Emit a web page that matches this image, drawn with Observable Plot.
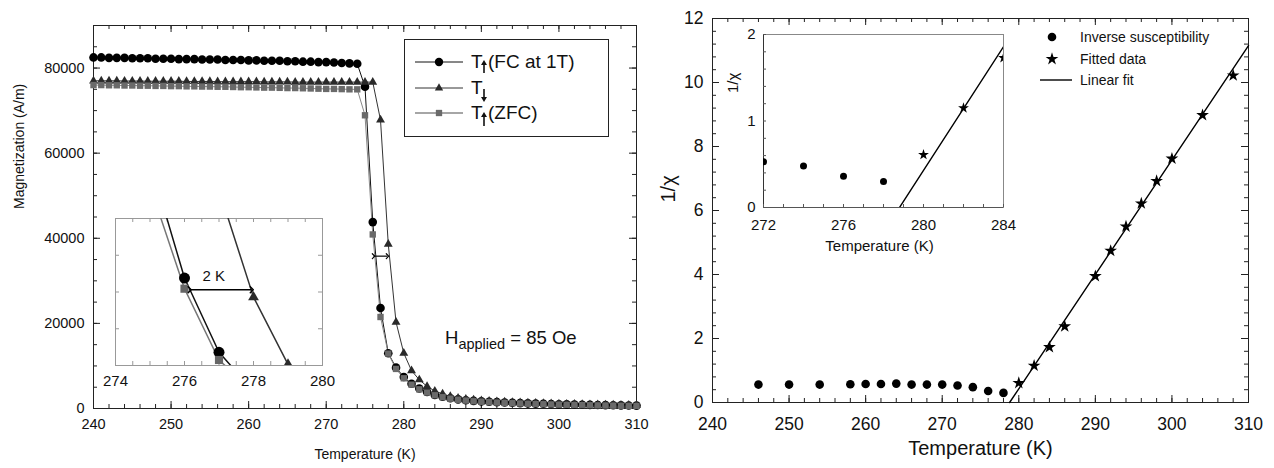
<!DOCTYPE html>
<html><head><meta charset="utf-8">
<script src="https://cdn.jsdelivr.net/npm/d3@7"></script>
<script src="https://cdn.jsdelivr.net/npm/@observablehq/plot@0.6"></script>
<style>
body{margin:0;background:#fff;}
#root{position:relative;width:1274px;height:468px;overflow:hidden;font-family:"Liberation Sans",Arial,sans-serif;background:#fff;}
#root > *{position:absolute;}
</style></head><body><div id="root"></div>
<script>
// ---------- Left panel data: magnetization vs temperature ----------
const temps = [240,241,242,243,244,245,246,247,248,249,250,251,252,253,254,255,256,257,258,259,260,261,262,263,264,265,266,267,268,269,270,271,272,273,274,275,276,277,278,279,280,281,282,283,284,285,286,287,288,289,290,291,292,293,294,295,296,297,298,299,300,301,302,303,304,305,306,307,308,309,310];
const fcUp = [82500,82500,82400,82400,82400,82300,82300,82300,82200,82200,82200,
  82100,82100,82100,82000,82000,82000,81900,81900,81900,81800,
  81800,81700,81700,81700,81600,81600,81500,81500,81400,81400,
  81300,81200,81100,81000,75600,43800,23600,13000,9600,7400,
  5800,4700,3900,3200,2750,2400,2150,1950,1800,1680,
  1580,1490,1410,1340,1270,1210,1150,1100,1050,1000,
  960,920,880,850,820,790,760,730,700,680];
const down = [77000,77000,77000,77000,76950,76950,76950,76900,76900,76900,76900,
  76900,76850,76850,76850,76850,76800,76800,76800,76800,76800,
  76800,76750,76750,76750,76750,76700,76700,76700,76700,76700,
  76700,76700,76700,76700,76700,76700,67800,38600,20300,13000,
  8900,6750,5200,4100,3450,2850,2450,2200,2000,1850,
  1730,1630,1540,1460,1390,1320,1260,1200,1150,1100,
  1050,1010,970,930,900,870,840,810,780,750];
const zfcUp = [76000,76000,75950,75950,75900,75900,75850,75850,75800,75800,75750,
  75750,75700,75700,75650,75650,75600,75600,75550,75500,75500,
  75450,75400,75400,75350,75300,75300,75250,75200,75150,75100,
  75100,75050,75000,75000,68900,40900,21500,12900,9300,7100,
  5600,4500,3750,3100,2650,2300,2050,1850,1700,1580,
  1480,1390,1310,1240,1170,1110,1050,1000,950,900,
  860,820,790,760,730,700,670,640,620,600];
const leftXTicks = [240,250,260,270,280,290,300,310];
const leftYTicks = [0,20000,40000,60000,80000];
const insetLXTicks = [274,276,278,280];
// annotation (2 K hysteresis)
const gapMain = [{x1: 276.1, x2: 277.9, M: 35800}];
const gapInset = [{x1: 276.15, x2: 277.95, M: 40600}];
const gapLabel = [{T: 276.85, M: 44400, text: "2 K"}];

// ---------- Right panel data: inverse susceptibility ----------
const invT = [246,250,254,258,260,262,264,266,268,270,272,274,276,278];
const invV = [0.56,0.56,0.56,0.57,0.58,0.58,0.59,0.56,0.56,0.56,0.53,0.48,0.36,0.30];
const fitT = [280,282,284,286,290,292,294,296,298,300,304,308];
const fitV = [0.61,1.15,1.73,2.38,3.95,4.74,5.50,6.22,6.92,7.62,8.98,10.22];
const linT = [278.8, 310];
const linV = [0, 11.15];
const rightXTicks = [240,250,260,270,280,290,300,310];
const rightYTicks = [0,2,4,6,8,10,12];
const insetRXTicks = [272,276,280,284];
const insetRYTicks = [0,1,2];

const FONT = "Liberation Sans, Arial, sans-serif";
const root = document.getElementById("root");
const num = d3.format("d");

const fcData = temps.map((t,i)=>({T:t, M:fcUp[i]}));
const downData = temps.map((t,i)=>({T:t, M:down[i]}));
const zfcData = temps.map((t,i)=>({T:t, M:zfcUp[i]}));
const invData = invT.map((t,i)=>({T:t, v:invV[i]}));
const fitData = fitT.map((t,i)=>({T:t, v:fitV[i]}));
const linData = linT.map((t,i)=>({T:t, v:linV[i]}));

function inwardTicks(xs, ys, fw, fh, len, stroke, sides="tblr") {
  const m = [];
  if (sides.includes("b")) m.push(Plot.tickX(xs, {x: d=>d, insetTop: fh-len, stroke}));
  if (sides.includes("t")) m.push(Plot.tickX(xs, {x: d=>d, insetBottom: fh-len, stroke}));
  if (sides.includes("l")) m.push(Plot.tickY(ys, {y: d=>d, insetRight: fw-len, stroke}));
  if (sides.includes("r")) m.push(Plot.tickY(ys, {y: d=>d, insetLeft: fw-len, stroke}));
  return m;
}
function place(el, left, top) { el.style.left = left+"px"; el.style.top = top+"px"; root.appendChild(el); return el; }
const baseStyle = (fs) => ({fontFamily: FONT, fontSize: fs+"px", background: "none", color: "#111", overflow: "visible"});

// ---------- Left main ----------
{
  const W=650,H=468, mL=93, mR=14, mT=25, mB=60;
  const fw=W-mL-mR, fh=H-mT-mB;
  const p = Plot.plot({
    width:W, height:H, marginLeft:mL, marginRight:mR, marginTop:mT, marginBottom:mB,
    style: baseStyle(14),
    x:{domain:[240,310]}, y:{domain:[0,90000]},
    marks:[
      Plot.frame({stroke:"#222"}),
      ...inwardTicks(d3.range(240,311,2), d3.range(0,90001,5000), fw, fh, 4, "#222"),
      ...inwardTicks(leftXTicks, leftYTicks, fw, fh, 7, "#222"),
      Plot.axisX(leftXTicks, {tickSize:0, tickPadding:10, fontSize:14.5, label:null, tickFormat:num}),
      Plot.axisY(leftYTicks, {tickSize:0, tickPadding:9, fontSize:14.5, label:null, tickFormat:num}),
      Plot.line(fcData, {x:"T", y:"M", stroke:"#111", strokeWidth:1}),
      Plot.line(downData, {x:"T", y:"M", stroke:"#333", strokeWidth:1}),
      Plot.line(zfcData, {x:"T", y:"M", stroke:"#888", strokeWidth:1}),
      Plot.dot(fcData, {x:"T", y:"M", r:4.3, fill:"#000", symbol:"circle"}),
      Plot.dot(downData, {x:"T", y:"M", r:3.3, fill:"#2a2a2a", symbol:"triangle"}),
      Plot.dot(zfcData, {x:"T", y:"M", r:3.6, fill:"#6a6a6a", symbol:"square"}),
      Plot.link(gapMain, {x1:"x1", x2:"x2", y1:"M", y2:"M", stroke:"#000", strokeWidth:1.2, markerStart:"arrow", markerEnd:"arrow"}),
      Plot.text(["Temperature (K)"], {frameAnchor:"bottom", dy:50, fontSize:14, fill:"#111"}),
      Plot.text(["Magnetization (A/m)"], {frameAnchor:"left", rotate:-90, dx:-74, dy:-8, fontSize:14, fill:"#111"})
    ]
  });
  place(p, 0, 0);
}

// ---------- Left inset ----------
{
  const W=240,H=200, mL=20, mR=13, mT=18, mB=35;
  const fw=W-mL-mR, fh=H-mT-mB;
  const p = Plot.plot({
    width:W, height:H, marginLeft:mL, marginRight:mR, marginTop:mT, marginBottom:mB,
    style: baseStyle(15),
    x:{domain:[274,280]}, y:{domain:[20000,60000], axis:null},
    marks:[
      Plot.frame({fill:"#fff", stroke:"#999"}),
      ...inwardTicks(d3.range(274,280.01,0.5), [30000,40000,50000], fw, fh, 4, "#999"),
      Plot.axisX(insetLXTicks, {tickSize:0, tickPadding:10, fontSize:15, label:null, tickFormat:num}),
      Plot.line(fcData, {x:"T", y:"M", stroke:"#111", strokeWidth:1.5, clip:true}),
      Plot.line(downData, {x:"T", y:"M", stroke:"#333", strokeWidth:1.5, clip:true}),
      Plot.line(zfcData, {x:"T", y:"M", stroke:"#777", strokeWidth:1.5, clip:true}),
      Plot.dot(fcData, {x:"T", y:"M", r:5.5, fill:"#000", symbol:"circle", clip:true}),
      Plot.dot(downData, {x:"T", y:"M", r:4, fill:"#2a2a2a", symbol:"triangle", clip:true}),
      Plot.dot(zfcData, {x:"T", y:"M", r:4.6, fill:"#666", symbol:"square", clip:true}),
      Plot.link(gapInset, {x1:"x1", x2:"x2", y1:"M", y2:"M", stroke:"#000", strokeWidth:1.5, markerStart:"arrow", markerEnd:"arrow"}),
      Plot.text(gapLabel, {x:"T", y:"M", text:"text", fontSize:15, fill:"#111"})
    ]
  });
  place(p, 95, 200);
}

// ---------- Right main ----------
{
  const W=624,H=468, mL=62, mR=26, mT=18, mB=66;
  const fw=W-mL-mR, fh=H-mT-mB;
  const p = Plot.plot({
    width:W, height:H, marginLeft:mL, marginRight:mR, marginTop:mT, marginBottom:mB,
    style: baseStyle(17.5),
    x:{domain:[240,310]}, y:{domain:[0,12]},
    marks:[
      Plot.frame({stroke:"#222"}),
      ...inwardTicks(d3.range(240,311,2), d3.range(0,12.01,0.4), fw, fh, 4, "#222"),
      ...inwardTicks(rightXTicks, rightYTicks, fw, fh, 7, "#222"),
      Plot.axisX(rightXTicks, {tickSize:0, tickPadding:15, fontSize:17.5, label:null, tickFormat:num}),
      Plot.axisY(rightYTicks, {tickSize:0, tickPadding:9, fontSize:17.5, label:null, tickFormat:num}),
      Plot.line(linData, {x:"T", y:"v", stroke:"#000", strokeWidth:1.4}),
      Plot.dot(invData, {x:"T", y:"v", r:4.3, fill:"#000", symbol:"circle"}),
      Plot.dot(fitData, {x:"T", y:"v", r:4, fill:"#000", symbol:"star"}),
      Plot.text(["Temperature (K)"], {frameAnchor:"bottom", dy:52, fontSize:20, fill:"#111"}),
      Plot.text(["1/\u03C7"], {frameAnchor:"left", rotate:-90, dx:-44, dy:-8, fontSize:20, fill:"#111"})
    ]
  });
  place(p, 650, 0);
}

// ---------- Right inset ----------
{
  const W=330,H=240, mL=73, mR=17, mT=14, mB=53;
  const fw=W-mL-mR, fh=H-mT-mB;
  const p = Plot.plot({
    width:W, height:H, marginLeft:mL, marginRight:mR, marginTop:mT, marginBottom:mB,
    style: baseStyle(15),
    x:{domain:[272,284]}, y:{domain:[0,2]},
    marks:[
      Plot.frame({fill:"#fff", stroke:"#888"}),
      Plot.ruleX([272], {stroke:"#333"}),
      Plot.ruleY([0], {stroke:"#555"}),
      ...inwardTicks(d3.range(272,284.01,1), d3.range(0,2.01,0.2), fw, fh, 3, "#555", "bl"),
      Plot.axisX(insetRXTicks, {tickSize:0, tickPadding:12, fontSize:15, label:null, tickFormat:num}),
      Plot.axisY(insetRYTicks, {tickSize:0, tickPadding:8, fontSize:15, label:null, tickFormat:num}),
      Plot.line(linData, {x:"T", y:"v", stroke:"#000", strokeWidth:1.4, clip:true}),
      Plot.dot(invData, {x:"T", y:"v", r:3.5, fill:"#000", symbol:"circle", clip:true}),
      Plot.dot(fitData, {x:"T", y:"v", r:3.4, fill:"#000", symbol:"star", clip:true}),
      Plot.text(["Temperature (K)"], {frameAnchor:"bottom", dy:43, dx:-4, fontSize:15, fill:"#111"}),
      Plot.text(["1/\u03C7"], {frameAnchor:"left", rotate:-90, dx:-30, dy:-28, fontSize:15, fill:"#111"})
    ]
  });
  place(p, 690, 20);
}

// ---------- Legends & annotation (HTML/SVG overlays) ----------
const NS = "http://www.w3.org/2000/svg";
function svgEl(w,h){ const s=document.createElementNS(NS,"svg"); s.setAttribute("width",w); s.setAttribute("height",h); s.style.fontFamily=FONT; return s; }
function upArrow(x, y0, y1){ return `<line x1="${x}" x2="${x}" y1="${y1}" y2="${y0+4}" stroke="#111" stroke-width="1.6"/><path d="M${x-3},${y0+5}L${x+3},${y0+5}L${x},${y0}Z" fill="#111"/>`; }
function downArrow(x, y0, y1){ return `<line x1="${x}" x2="${x}" y1="${y0}" y2="${y1-4}" stroke="#111" stroke-width="1.6"/><path d="M${x-3},${y1-5}L${x+3},${y1-5}L${x},${y1}Z" fill="#111"/>`; }
{
  const s = svgEl(206, 99);
  const tri = d3.symbol(d3.symbolTriangle, 30)();
  const sq = d3.symbol(d3.symbolSquare, 40)();
  s.innerHTML = `
    <rect x="0.5" y="0.5" width="204" height="97" fill="#fff" stroke="#222"/>
    <line x1="11" x2="59" y1="23" y2="23" stroke="#111"/>
    <circle cx="35" cy="23" r="4.2" fill="#000"/>
    <line x1="11" x2="59" y1="49" y2="49" stroke="#333"/>
    <path d="${tri}" transform="translate(35,49)" fill="#2a2a2a"/>
    <line x1="11" x2="59" y1="74" y2="74" stroke="#888" stroke-width="1.5"/>
    <path d="${sq}" transform="translate(35,74)" fill="#6a6a6a"/>
    <text x="67" y="29" font-size="19" fill="#111">T</text>
    ${upArrow(80, 21, 34)}
    <text x="84" y="29" font-size="19" fill="#111">(FC at 1T)</text>
    <text x="67" y="55" font-size="19" fill="#111">T</text>
    ${downArrow(80, 50, 63)}
    <text x="67" y="80" font-size="19" fill="#111">T</text>
    ${upArrow(80, 73, 87)}
    <text x="84" y="80" font-size="19" fill="#111">(ZFC)</text>`;
  place(s, 404, 39);
}
{
  const s = svgEl(190, 70);
  const star = d3.symbol(d3.symbolStar, Math.PI*16)();
  s.innerHTML = `
    <circle cx="17" cy="12" r="4.3" fill="#000"/>
    <path d="${star}" transform="translate(17,34)" fill="#000"/>
    <line x1="5" x2="37" y1="55" y2="55" stroke="#000" stroke-width="1.4"/>
    <text x="45" y="17" font-size="14" fill="#111">Inverse susceptibility</text>
    <text x="45" y="39" font-size="14" fill="#111">Fitted data</text>
    <text x="45" y="60" font-size="14" fill="#111">Linear fit</text>`;
  place(s, 1035, 25);
}
{
  const s = svgEl(200, 40);
  s.innerHTML = `<text x="2" y="24" font-size="18.5" fill="#111">H<tspan font-size="14.5" dy="5">applied</tspan><tspan dy="-5"> = 85 Oe</tspan></text>`;
  place(s, 443, 320);
}
</script></body></html>
